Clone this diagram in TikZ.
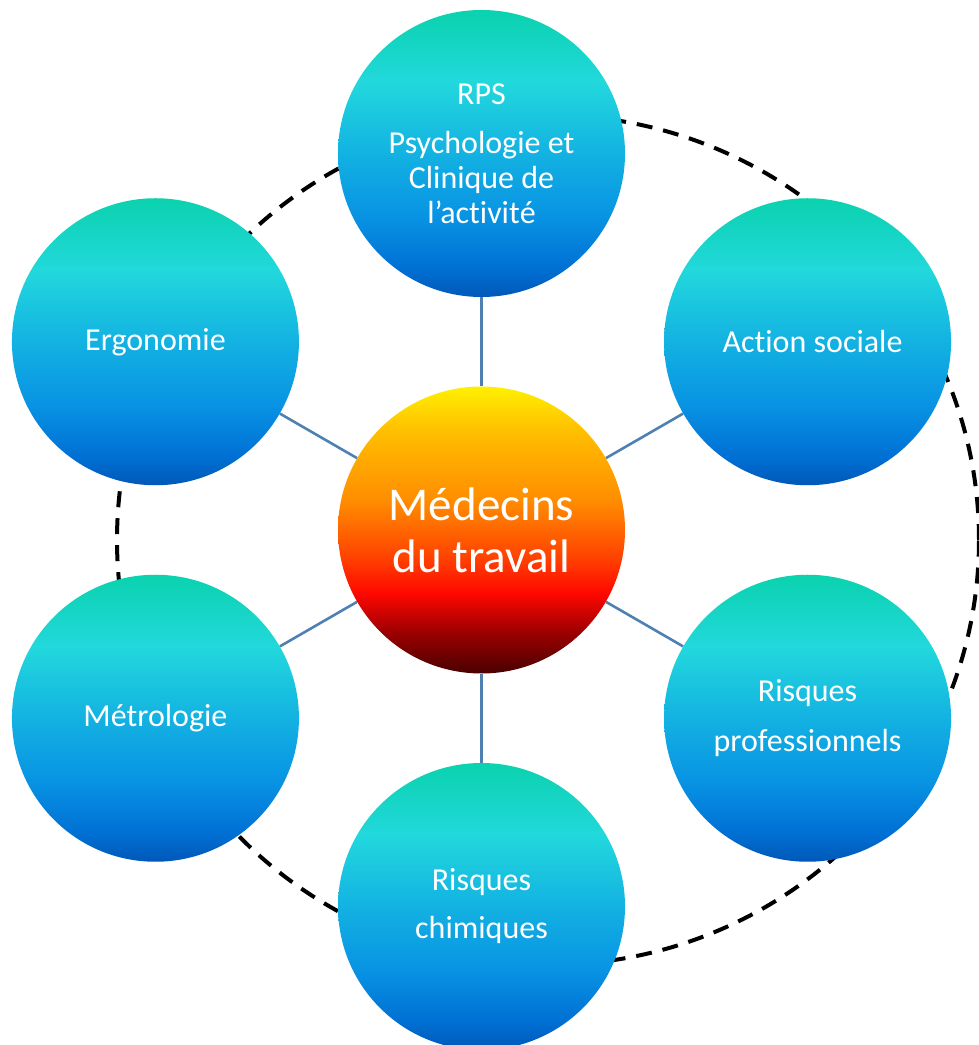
\documentclass[tikz,border=0pt]{standalone}
\usepackage{fontspec}
\setmainfont{Carlito}[Ligatures={NoCommon,NoContextual,NoRequired}]
\usetikzlibrary{backgrounds}
\definecolor{bteal}{HTML}{0AD2AE}
\definecolor{bcyan}{HTML}{22D8DC}
\definecolor{bmid}{HTML}{13B2E2}
\definecolor{bblue}{HTML}{0893E3}
\definecolor{bdeep}{HTML}{0070D4}
\definecolor{bdark}{HTML}{0058B8}
\definecolor{cyel}{HTML}{FFF000}
\definecolor{cgold}{HTML}{FFC000}
\definecolor{corange}{HTML}{FF8C00}
\definecolor{cred1}{HTML}{FF4000}
\definecolor{cred}{HTML}{FF0800}
\definecolor{cdark}{HTML}{A00000}
\definecolor{cdeep}{HTML}{4A0000}
\definecolor{linkcol}{HTML}{4F80B2}
\pgfdeclareverticalshading{bluecirc}{100bp}{color(0bp)=(bdark); color(25bp)=(bdark); color(30bp)=(bdeep); color(39bp)=(bblue); color(50bp)=(bmid); color(62.5bp)=(bcyan); color(75bp)=(bteal); color(100bp)=(bteal)}
\pgfdeclareverticalshading{hotcirc}{100bp}{color(0bp)=(cdeep); color(25bp)=(cdeep); color(32.5bp)=(cdark); color(39bp)=(cred); color(45bp)=(cred1); color(55bp)=(corange); color(67.5bp)=(cgold); color(75bp)=(cyel); color(100bp)=(cyel)}
\tikzset{
  topic/.style={circle, minimum size=287pt, inner sep=0pt, shade, shading=bluecirc,
    text=white, align=center, font=\fontsize{32}{35}\selectfont},
  hub/.style={circle, minimum size=287pt, inner sep=0pt, shade, shading=hotcirc,
    text=white, align=center, font=\fontsize{47}{52}\selectfont},
  link/.style={draw=linkcol, line width=2.6pt},
  ring/.style={draw=black, line width=4pt, dash pattern=on 16pt off 11pt}
}
\begin{document}
\begin{tikzpicture}[x=1pt,y=1pt]
\useasboundingbox (0,0) rectangle (979,1045);
\coordinate (o) at (481.5,515);
\node[hub] (c) at (o) {Médecins\\du travail};
\node[topic] (rps) at ([shift={(90:376.5pt)}]o) {RPS\\[14pt]Psychologie et\\Clinique de\\l’act\kern0pt ivit\kern0pt é};
\node[topic] (erg) at ([shift={(150:376.5pt)}]o) {Ergonomie};
\node[topic] (act) at ([shift={(30:376.5pt)}]o) {\hspace*{10pt}Act\kern0pt ion sociale};
\node[topic] (met) at ([shift={(210:376.5pt)}]o) {Métrologie};
\node[topic] (rpro) at ([shift={(330:376.5pt)}]o) {Risques\\[15pt]professionnels};
\node[topic] (rchi) at ([shift={(270:376.5pt)}]o) {Risques\\[13pt]chimiques};
\begin{scope}[on background layer]
  \draw[ring] (548,505) ellipse [x radius=431, y radius=425];
  \draw[link] (c) -- (rps);
  \draw[link] (c) -- (erg);
  \draw[link] (c) -- (act);
  \draw[link] (c) -- (met);
  \draw[link] (c) -- (rpro);
  \draw[link] (c) -- (rchi);
\end{scope}
\end{tikzpicture}
\end{document}
